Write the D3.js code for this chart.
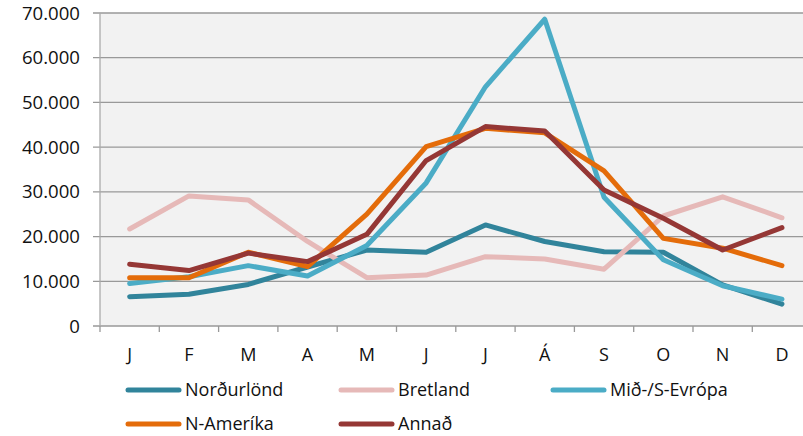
<!DOCTYPE html>
<html><head><meta charset="utf-8">
<script src="https://cdn.jsdelivr.net/npm/d3@7"></script>
<style>body{margin:0;background:#fff}svg{display:block}text{font-family:"Open Sans",sans-serif;fill:#111}</style>
</head><body><svg id="c" width="803" height="436"></svg>
<script>
const months = ["J","F","M","A","M","J","J","Á","S","O","N","D"];
const yTicks = [0,10000,20000,30000,40000,50000,60000,70000];
const seriesNames = ["Norðurlönd","Bretland","Mið-/S-Evrópa","N-Ameríka","Annað"];
const seriesColors = ["#31849B","#E6B9B8","#4BACC6","#E46C0A","#953735"];
const nordurlond = [6550,7100,9300,13200,17000,16500,22600,18900,16600,16500,9200,4900];
const bretland = [21700,29100,28200,18900,10800,11400,15500,15000,12700,24600,28900,24200];
const midEvropa = [9500,11000,13500,11200,18000,32000,53500,68600,28800,14800,9000,6000];
const nAmerika = [10800,10800,16500,13300,25000,40100,44200,43200,34700,19600,17400,13500];
const annad = [13800,12400,16300,14400,20500,37000,44600,43600,30400,24100,17000,22000];
const seriesValues = [nordurlond,bretland,midEvropa,nAmerika,annad];

const svg = d3.select("#c");
const L=100, R=811.6, T=13, B=326;
const x = d3.scaleBand().domain(d3.range(12)).range([L,R]);
const y = d3.scaleLinear().domain([0,70000]).range([B,T]);
const loc = d3.formatLocale({decimal:",",thousands:".",grouping:[3],currency:["",""]});
const fmt = loc.format(",d");

svg.append("rect").attr("x",L).attr("y",T).attr("width",R-L).attr("height",B-T).attr("fill","#F2F2F2");
// gridlines
svg.append("g").selectAll("line").data(yTicks).join("line")
  .attr("x1",L-7).attr("x2",R).attr("y1",d=>y(d)).attr("y2",d=>y(d))
  .attr("stroke","#999").attr("stroke-width",1.3);
// y axis line
svg.append("line").attr("x1",L).attr("x2",L).attr("y1",T).attr("y2",B).attr("stroke","#aaa").attr("stroke-width",1.3);
// y labels
svg.append("g").selectAll("text").data(yTicks).join("text")
  .attr("x",80).attr("y",d=>y(d)).attr("dy","0.35em").attr("text-anchor","end")
  .attr("font-size",18.6).text(d=>fmt(d));
// x ticks
const bounds = d3.range(13).map(i=>L+i*x.step());
svg.append("g").selectAll("line").data(bounds).join("line")
  .attr("x1",d=>d).attr("x2",d=>d).attr("y1",B).attr("y2",B+6)
  .attr("stroke","#999").attr("stroke-width",1.3);
svg.append("g").selectAll("text").data(months).join("text")
  .attr("x",(d,i)=>x(i)+x.bandwidth()/2).attr("y",355).attr("dy","0.35em")
  .attr("text-anchor","middle").attr("font-size",18).text(d=>d);
// lines
const line = d3.line().x((d,i)=>x(i)+x.bandwidth()/2).y(d=>y(d));
svg.append("g").selectAll("path").data(seriesValues).join("path")
  .attr("d",line).attr("fill","none").attr("stroke",(d,i)=>seriesColors[i])
  .attr("stroke-width",5).attr("stroke-linejoin","round").attr("stroke-linecap","round");
// legend
const legPos = [[126,390],[339,390],[551,390],[126,424],[339,424]];
const lg = svg.append("g").selectAll("g").data(seriesNames).join("g")
  .attr("transform",(d,i)=>`translate(${legPos[i][0]},${legPos[i][1]})`);
lg.append("line").attr("x1",2).attr("x2",53).attr("y1",0).attr("y2",0)
  .attr("stroke",(d,i)=>seriesColors[i]).attr("stroke-width",5).attr("stroke-linecap","round");
lg.append("text").attr("x",59).attr("y",0).attr("dy","0.35em").attr("font-size",18).text(d=>d);
</script></body></html>
